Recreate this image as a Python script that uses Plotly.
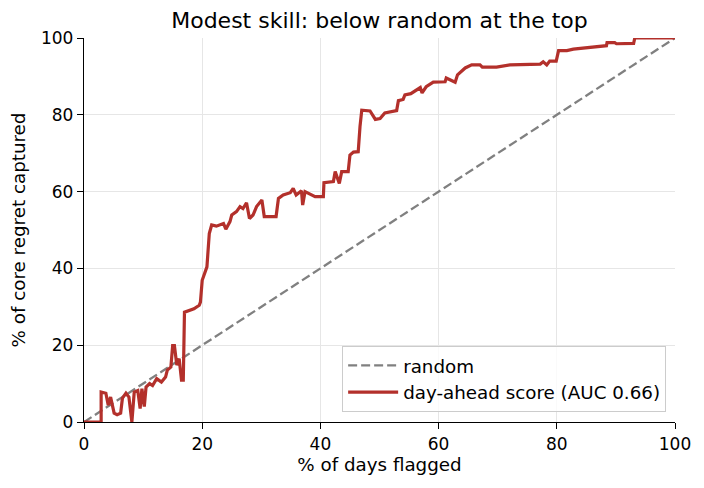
import plotly.graph_objects as go

# values
pct_days = [0, 2.9, 2.9, 3.7, 4.1, 4.5, 5.1, 5.6, 6.2, 6.5, 7.1, 7.6, 8.1, 8.5, 9.1, 9.5,
            9.8, 10.2, 10.5, 11.1, 11.6, 12.3, 13.1, 13.8, 14.1, 14.7, 15.0, 15.3, 15.7,
            16.1, 16.5, 16.8, 17.0, 17.8, 18.6, 19.5, 19.7, 20.0, 20.3, 20.8, 21.2, 21.6,
            22.4, 23.6, 24.0, 24.7, 25.0, 25.8, 26.4, 26.9, 27.5, 28.0, 28.6, 29.2, 30.1,
            30.5, 32.5, 32.9, 33.7, 34.9, 35.4, 35.9, 36.8, 37.0, 37.4, 38.2, 39.1, 40.5,
            40.6, 42.2, 42.5, 43.2, 43.6, 44.7, 45.0, 45.6, 46.4, 46.7, 47.0, 48.4, 49.3,
            50.1, 50.9, 52.9, 53.2, 54.0, 54.3, 55.3, 56.9, 57.2, 57.9, 59.1, 61.1, 61.3,
            62.8, 63.2, 64.5, 65.6, 67.0, 67.4, 69.8, 72.1, 77.2, 77.7, 78.3, 78.8, 79.9,
            80.3, 81.7, 82.8, 85.0, 86.7, 88.4, 88.5, 89.8, 90.1, 93.0, 93.2, 100]
pct_regret = [0, 0, 7.8, 7.5, 4.4, 6.5, 2.3, 1.9, 2.3, 6.2, 7.5, 6.5, 0, 7.8, 8.2, 3.5,
              8.7, 4.0, 9.1, 10.0, 9.5, 11.3, 10.4, 11.7, 13.5, 14.3, 19.9, 19.9, 14.8,
              16.5, 10.9, 10.9, 28.6, 29.0, 29.5, 30.4, 31.2, 36.9, 38.2, 40.4, 49.1, 51.3,
              51.0, 51.7, 50.2, 52.2, 53.9, 54.8, 56.1, 55.6, 57.1, 53.0, 53.9, 56.1, 57.8,
              53.5, 53.5, 58.2, 59.1, 59.7, 60.8, 59.1, 60.2, 56.5, 60.0, 59.3, 58.7, 58.7,
              62.3, 62.6, 65.2, 62.1, 65.2, 65.2, 69.5, 70.3, 70.4, 76.9, 81.2, 81.0, 78.8,
              79.0, 80.5, 81.1, 83.7, 84.0, 85.2, 85.5, 87.1, 85.7, 87.3, 88.5, 88.6, 89.6,
              88.5, 90.4, 92.2, 93.0, 93.0, 92.4, 92.4, 93.0, 93.2, 93.8, 93.0, 94.0, 94.0,
              96.7, 96.7, 97.1, 97.4, 97.6, 98.0, 98.8, 98.8, 98.5, 98.6, 100, 100]
random_x = [0, 100]
random_y = [0, 100]
ticks = [0, 20, 40, 60, 80, 100]

font = "DejaVu Sans"

fig = go.Figure()
fig.add_trace(go.Scatter(
    x=random_x, y=random_y, mode="lines", name="random",
    line=dict(color="#808080", width=2.3, dash="9px,4px"),
))
fig.add_trace(go.Scatter(
    x=pct_days, y=pct_regret, mode="lines", name="day-ahead score (AUC 0.66)",
    line=dict(color="#b3302b", width=3.2),
))

axis_common = dict(
    range=[0, 100], tickvals=ticks, showline=True, linecolor="black", linewidth=1.3,
    ticks="outside", ticklen=6, tickwidth=1.3, tickcolor="black",
    showgrid=True, gridcolor="#e6e6e6", gridwidth=1, zeroline=False,
    tickfont=dict(family=font, size=17, color="black"), automargin=False,
)

# page body has an 8px margin, so the figure margins are shifted to compensate
fig.update_layout(
    width=704, height=488,
    margin=dict(l=76, r=37, t=30, b=74),
    paper_bgcolor="white", plot_bgcolor="white",
    font=dict(family=font, color="black"),
    title=dict(text="Modest skill: below random at the top", x=0.5, xref="paper",
               xanchor="center", y=0.975, yanchor="middle",
               font=dict(family=font, size=22, color="black")),
    xaxis=dict(axis_common, title=dict(text="% of days flagged", standoff=5,
                                      font=dict(family=font, size=18.3))),
    yaxis=dict(axis_common, title=dict(text="% of core regret captured", standoff=14,
                                      font=dict(family=font, size=18.3))),
    legend=dict(x=0.985, y=0.026, xanchor="right", yanchor="bottom",
                bgcolor="rgba(255,255,255,0.8)", bordercolor="#cccccc", borderwidth=1,
                font=dict(family=font, size=18.3, color="black"),
                itemwidth=50, tracegroupgap=2),
    showlegend=True,
)

fig.write_html("out.html")
